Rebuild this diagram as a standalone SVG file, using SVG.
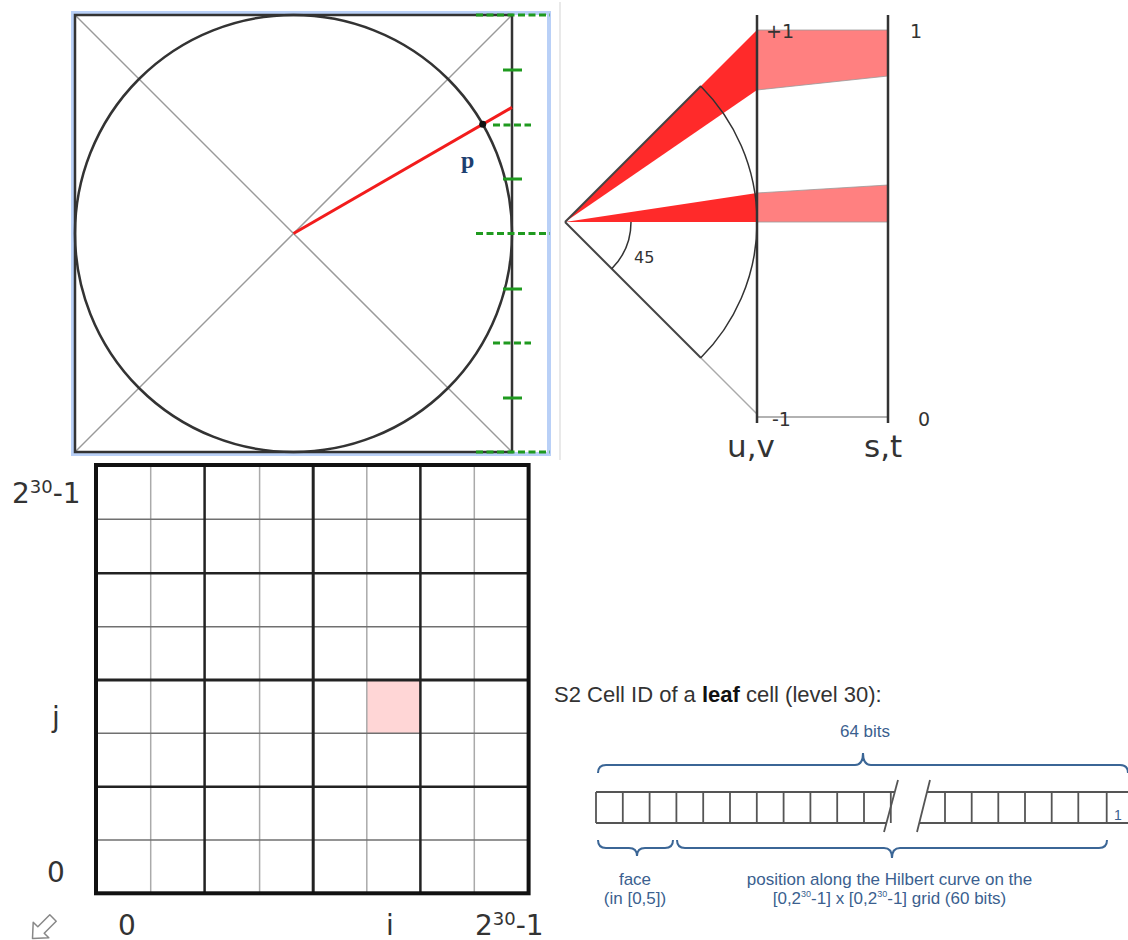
<svg xmlns="http://www.w3.org/2000/svg" width="1128" height="940" viewBox="0 0 1128 940">
<defs>
<style>
.dk{stroke:#333;stroke-width:2.5;fill:none}
.diag{stroke:#9a9a9a;stroke-width:1.5;fill:none}
.gl{stroke:#1f9a1f;stroke-width:3;fill:none}
.gd{stroke:#1f9a1f;stroke-width:3;fill:none;stroke-dasharray:7 3.5}
.lbl{font-family:"DejaVu Sans",sans-serif;fill:#333}
.thinv{stroke:#aaa;stroke-width:1.5}
.thinh{stroke:#707070;stroke-width:1.5}
.thick{stroke:#222;stroke-width:2.5}
.bit{stroke:#555;stroke-width:1.8;fill:none}
.brace{stroke:#3b6696;stroke-width:2;fill:none}
.bt{font-family:"Liberation Sans",Arial,sans-serif;fill:#3b5f8f;font-size:17px;text-anchor:middle}
</style>
</defs>
<rect width="1128" height="940" fill="#fff"/>

<g id="sphere-face">
<rect x="73" y="13" width="476" height="441" fill="none" stroke="#b9d0f7" stroke-width="4"/>
<line class="diag" x1="75" y1="15" x2="512" y2="452"/>
<line class="diag" x1="512" y1="15" x2="75" y2="452"/>
<rect class="dk" x="75" y="15" width="437" height="437"/>
<circle class="dk" cx="293.5" cy="233.5" r="218.5"/>
<line x1="293.5" y1="233.5" x2="512" y2="107.4" stroke="#f21c1c" stroke-width="3"/>
<circle cx="482.7" cy="124.3" r="3.5" fill="#111"/>
<text x="461" y="168" font-family="'Liberation Serif',serif" font-weight="bold" font-size="24" fill="#1d3f70">p</text>
<line class="gd" x1="476" y1="15" x2="550" y2="15"/>
<line class="gl" x1="503" y1="70" x2="522" y2="70"/>
<line class="gd" x1="493" y1="125" x2="531" y2="125"/>
<line class="gl" x1="503" y1="179" x2="522" y2="179"/>
<line class="gd" x1="476" y1="233.5" x2="550" y2="233.5"/>
<line class="gl" x1="503" y1="289" x2="522" y2="289"/>
<line class="gd" x1="493" y1="343" x2="531" y2="343"/>
<line class="gl" x1="503" y1="398" x2="522" y2="398"/>
<line class="gd" x1="476" y1="452" x2="550" y2="452"/>
</g>

<g id="projection">
<line x1="560" y1="2" x2="560" y2="460" stroke="#e2e2e2" stroke-width="1.5"/>
<polygon points="757,30 888,30 888,76 757,90" fill="#ff8080" stroke="#999" stroke-width="0.8"/>
<polygon points="757,193 888,185 888,222 757,222" fill="#ff8080" stroke="#999" stroke-width="0.8"/>
<polygon points="565,222 757,30 757,90" fill="#ff2a2a"/>
<polygon points="565,222 757,193 757,222" fill="#ff2a2a"/>
<line x1="565" y1="222" x2="701" y2="86" stroke="#444" stroke-width="2"/>
<line x1="565" y1="222" x2="701" y2="358" stroke="#444" stroke-width="2"/>
<line x1="701" y1="358" x2="757" y2="414" stroke="#aaa" stroke-width="1.5"/>
<path d="M700.8,86.2 A192,192 0 0 1 700.8,357.8" stroke="#333" stroke-width="1.5" fill="none"/>
<path d="M631,222 A66,66 0 0 1 611.7,268.7" stroke="#333" stroke-width="1.5" fill="none"/>
<line x1="757" y1="417" x2="888" y2="417" stroke="#999" stroke-width="1.5"/>
<line x1="757" y1="15" x2="757" y2="423" stroke="#333" stroke-width="2.5"/>
<line x1="888" y1="15" x2="888" y2="423" stroke="#333" stroke-width="2.5"/>
<text class="lbl" x="634" y="263" font-size="16">45</text>
<text class="lbl" x="766" y="38" font-size="19">+1</text>
<text class="lbl" x="910" y="38" font-size="19">1</text>
<text class="lbl" x="772" y="426" font-size="19">-1</text>
<text class="lbl" x="918" y="426" font-size="19">0</text>
<text class="lbl" x="727" y="457" font-size="31">u,v</text>
<text class="lbl" x="864" y="457" font-size="31">s,t</text>
</g>

<g id="ij-grid">
<rect x="366.8" y="680" width="53.6" height="53.3" fill="#ffd6d6"/>
<g class="thinv">
<line x1="150.7" y1="465" x2="150.7" y2="893"/>
<line x1="259.6" y1="465" x2="259.6" y2="893"/>
<line x1="366.8" y1="465" x2="366.8" y2="893"/>
<line x1="474.3" y1="465" x2="474.3" y2="893"/>
</g>
<g class="thinh">
<line x1="96" y1="519.3" x2="529" y2="519.3"/>
<line x1="96" y1="626.7" x2="529" y2="626.7"/>
<line x1="96" y1="733.3" x2="529" y2="733.3"/>
<line x1="96" y1="840" x2="529" y2="840"/>
</g>
<g class="thick">
<line x1="204.6" y1="465" x2="204.6" y2="893"/>
<line x1="313.2" y1="465" x2="313.2" y2="893" stroke-width="3"/>
<line x1="420.4" y1="465" x2="420.4" y2="893"/>
<line x1="96" y1="573.3" x2="529" y2="573.3"/>
<line x1="96" y1="680" x2="529" y2="680" stroke-width="3"/>
<line x1="96" y1="786.7" x2="529" y2="786.7"/>
</g>
<rect x="96" y="465" width="432.6" height="428.3" fill="none" stroke="#111" stroke-width="4"/>
<text class="lbl" x="12" y="503" font-size="28">2<tspan font-size="18" dy="-10">30</tspan><tspan dy="10">-1</tspan></text>
<text class="lbl" x="52" y="727" font-size="28">j</text>
<text class="lbl" x="47" y="882" font-size="28">0</text>
<text class="lbl" x="118" y="935" font-size="28">0</text>
<text class="lbl" x="386" y="935" font-size="28">i</text>
<text class="lbl" x="475" y="935" font-size="28">2<tspan font-size="18" dy="-10">30</tspan><tspan dy="10">-1</tspan></text>
<polygon points="56.2,921.2 44.2,933.2 48.8,937.8 32.5,938.5 33.2,922.2 37.8,926.8 49.8,914.8" fill="#fff" stroke="#888" stroke-width="1.5" stroke-linejoin="round"/>
</g>

<g id="cell-id">
<text x="554" y="702" font-family="Liberation Sans,Arial,sans-serif" font-size="22" fill="#333">S2 Cell ID of a <tspan font-weight="bold" fill="#111">leaf</tspan> cell (level 30):</text>
<text class="bt" x="865" y="737">64 bits</text>
<path class="brace" d="M598,773 Q598,765 606,765 H855 Q863,765 863,753 Q863,765 871,765 H1120 Q1128,765 1128,773"/>
<g class="bit">
<line x1="596" y1="792" x2="895" y2="792"/>
<line x1="596" y1="823" x2="887" y2="823"/>
<line x1="927" y1="792" x2="1128" y2="792"/>
<line x1="920" y1="823" x2="1128" y2="823"/>
<line x1="898" y1="780" x2="884" y2="832"/>
<line x1="930" y1="780" x2="917" y2="832"/>
<line x1="596" y1="792" x2="596" y2="823"/>
<line x1="622.8" y1="792" x2="622.8" y2="823"/>
<line x1="649.6" y1="792" x2="649.6" y2="823"/>
<line x1="676.4" y1="792" x2="676.4" y2="823"/>
<line x1="703.2" y1="792" x2="703.2" y2="823"/>
<line x1="730" y1="792" x2="730" y2="823"/>
<line x1="756.8" y1="792" x2="756.8" y2="823"/>
<line x1="783.6" y1="792" x2="783.6" y2="823"/>
<line x1="810.4" y1="792" x2="810.4" y2="823"/>
<line x1="837.2" y1="792" x2="837.2" y2="823"/>
<line x1="864" y1="792" x2="864" y2="823"/>
<line x1="890.8" y1="792" x2="890.8" y2="823"/>
<line x1="945" y1="792" x2="945" y2="823"/>
<line x1="971.7" y1="792" x2="971.7" y2="823"/>
<line x1="998.3" y1="792" x2="998.3" y2="823"/>
<line x1="1025" y1="792" x2="1025" y2="823"/>
<line x1="1051.7" y1="792" x2="1051.7" y2="823"/>
<line x1="1078.3" y1="792" x2="1078.3" y2="823"/>
<line x1="1106.7" y1="792" x2="1106.7" y2="823"/>
</g>
<text x="1114" y="820" font-family="Liberation Sans,Arial,sans-serif" font-size="14" fill="#3b5f8f">1</text>
<path class="brace" d="M598,840 Q598,848 606,848 H629 Q637,848 637,856 Q637,848 645,848 H665 Q673,848 673,840"/>
<path class="brace" d="M677,840 Q677,848 685,848 H884 Q892,848 892,858 Q892,848 900,848 H1099 Q1107,848 1107,840"/>
<text class="bt" x="635" y="885">face</text>
<text class="bt" x="635" y="904">(in [0,5])</text>
<text class="bt" x="889.5" y="885">position along the Hilbert curve on the</text>
<text class="bt" x="889.5" y="904">[0,2<tspan font-size="9" dy="-7">30</tspan><tspan dy="7">-1] x [0,2</tspan><tspan font-size="9" dy="-7">30</tspan><tspan dy="7">-1] grid (60 bits)</tspan></text>
</g>
</svg>
